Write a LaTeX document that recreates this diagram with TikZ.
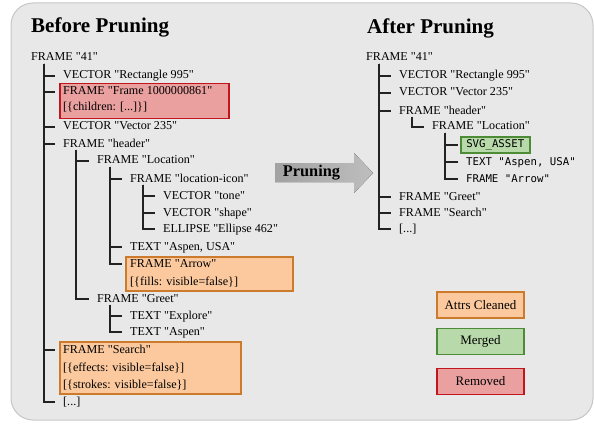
\documentclass[tikz,border=0pt]{standalone}
\usepackage{fontspec}
\setmainfont{Liberation Serif}[Ligatures=TeXOff]
\newfontfamily\codefont{DejaVu Sans Mono}[Ligatures=TeXOff]

\definecolor{panelfill}{HTML}{E8E8E8}
\definecolor{panelline}{HTML}{C6C6C6}
\definecolor{treeline}{HTML}{222222}
\definecolor{cleanfill}{HTML}{FBC99D}
\definecolor{cleanline}{HTML}{CC7A2C}
\definecolor{mergefill}{HTML}{B8D9A9}
\definecolor{mergeline}{HTML}{4D8B37}
\definecolor{dropfill}{HTML}{EBA0A0}
\definecolor{dropline}{HTML}{C0161E}
\definecolor{arrowdark}{HTML}{A2A2A2}
\definecolor{arrowlight}{HTML}{BEBEBE}

% elbow connector: vertical rail below the parent, tick into the child
\newcommand\twig[3][8pt]{\draw[branch] ([xshift=13pt]#2.south west) |- ([xshift=-#1]#3.west);}

\begin{document}
\begin{tikzpicture}[x=1pt,y=-1pt,
  item/.style={anchor=west, inner sep=0pt, font=\fontsize{12.1}{14}\selectfont,
               text height=8.5pt, text depth=2.5pt},
  code/.style={item, font=\codefont\fontsize{10.7}{13}\selectfont},
  title/.style={anchor=west, inner sep=0pt, font=\bfseries\fontsize{21}{24}\selectfont},
  branch/.style={draw=treeline, line width=1.5pt},
  tagbox/.style={anchor=north west, line width=1.5pt, inner sep=0pt},
  cleaned/.style={tagbox, fill=cleanfill, draw=cleanline},
  merged/.style={tagbox, fill=mergefill, draw=mergeline},
  removed/.style={tagbox, fill=dropfill, draw=dropline},
  legend/.style={line width=1.5pt, minimum width=87pt, minimum height=26pt,
                 inner sep=0pt, font=\fontsize{13}{15}\selectfont}]

\useasboundingbox (0,0) rectangle (594,425);

% background panel
\draw[fill=panelfill, draw=panelline, line width=1pt, rounded corners=22pt]
  (11,3) rectangle (593,420);

% ---------------- before ----------------
\node[title] (tBefore) at (31,27) {Before Pruning};

\node[removed, minimum width=169pt, minimum height=35pt] (boxFrame) at (59,83) {};
\node[cleaned, minimum width=167pt, minimum height=34pt] (boxArrow) at (125,256) {};
\node[cleaned, minimum width=181pt, minimum height=52pt] (boxSearch) at (59,341) {};

\node[item] (b41)      at (31,58)  {FRAME "41"};
\node[item] (bRect)    at (63,76)  {VECTOR "Rectangle 995"};
\node[item] (bFrame)   at (63,92)  {FRAME "Frame 1000000861"};
\node[item] (bFrameK)  at (63,108) {[\{children: [...]\}]};
\node[item] (bVec)     at (63,127) {VECTOR "Vector 235"};
\node[item] (bHead)    at (63,144) {FRAME "header"};
\node[item] (bLoc)     at (97,161) {FRAME "Location"};
\node[item] (bIcon)    at (130,179){FRAME "location-icon"};
\node[item] (bTone)    at (163,196){VECTOR "tone"};
\node[item] (bShape)   at (163,213){VECTOR "shape"};
\node[item] (bEll)     at (163,229){ELLIPSE "Ellipse 462"};
\node[item] (bAspen)   at (130,247){TEXT "Aspen, USA"};
\node[item] (bArrow)   at (130,264){FRAME "Arrow"};
\node[item] (bFills)   at (130,282){[\{fills: visible=false\}]};
\node[item] (bGreet)   at (97,299) {FRAME "Greet"};
\node[item] (bExpl)    at (130,316){TEXT "Explore"};
\node[item] (bAsp)     at (130,332){TEXT "Aspen"};
\node[item] (bSearch)  at (63,350) {FRAME "Search"};
\node[item] (bEff)     at (63,368) {[\{effects: visible=false\}]};
\node[item] (bStr)     at (63,385) {[\{strokes: visible=false\}]};
\node[item] (bMore)    at (63,402) {[...]};

\twig{b41}{bRect}
\twig{b41}{bFrame}
\twig{b41}{bVec}
\twig{b41}{bHead}
\twig{b41}{bSearch}
\twig{b41}{bMore}
\twig{bHead}{bLoc}
\twig{bHead}{bGreet}
\twig{bLoc}{bIcon}
\twig{bLoc}{bAspen}
\twig{bLoc}{bArrow}
\twig{bIcon}{bTone}
\twig{bIcon}{bShape}
\twig{bIcon}{bEll}
\twig{bGreet}{bExpl}
\twig{bGreet}{bAsp}

% ---------------- pruning arrow ----------------
\fill[left color=arrowdark, right color=arrowlight]
  (275,163) -- (354,163) -- (354,153) -- (373,173) -- (354,193) -- (354,182)
  -- (275,182) -- cycle;
\node[inner sep=0pt, font=\bfseries\fontsize{16.3}{19}\selectfont] (tPrune) at (311.5,173) {Pruning};

% ---------------- after ----------------
\node[title] (tAfter) at (367,28) {After Pruning};

\node[item] (a41)     at (366,58)  {FRAME "41"};
\node[item] (aRect)   at (399,76)  {VECTOR "Rectangle 995"};
\node[item] (aVec)    at (399,93)  {VECTOR "Vector 235"};
\node[item] (aHead)   at (399,111) {FRAME "header"};
\node[item] (aLoc)    at (432,127) {FRAME "Location"};
\node[merged, anchor=west, minimum width=69pt, minimum height=16pt,
      font=\codefont\fontsize{10.7}{13}\selectfont] (aSvg) at (460,145) {SVG\_ASSET};
\node[code] (aText)   at (466,162) {TEXT "Aspen, USA"};
\node[code] (aArrow)  at (466,179) {FRAME "Arrow"};
\node[item] (aGreet)  at (399,197) {FRAME "Greet"};
\node[item] (aSearch) at (399,213) {FRAME "Search"};
\node[item] (aMore)   at (399,229) {[...]};

\twig{a41}{aRect}
\twig{a41}{aVec}
\twig{a41}{aHead}
\twig{a41}{aGreet}
\twig{a41}{aSearch}
\twig{a41}{aMore}
\twig{aHead}{aLoc}
\twig[2pt]{aLoc}{aSvg}
\twig{aLoc}{aText}
\twig{aLoc}{aArrow}

% ---------------- legend ----------------
\node[legend, fill=cleanfill, draw=cleanline] (lClean) at (480.5,305) {Attrs Cleaned};
\node[legend, fill=mergefill, draw=mergeline] (lMerge) at (480.5,341.5) {Merged};
\node[legend, fill=dropfill, draw=dropline]   (lDrop)  at (480.5,381.5) {Removed};

\end{tikzpicture}
\end{document}
